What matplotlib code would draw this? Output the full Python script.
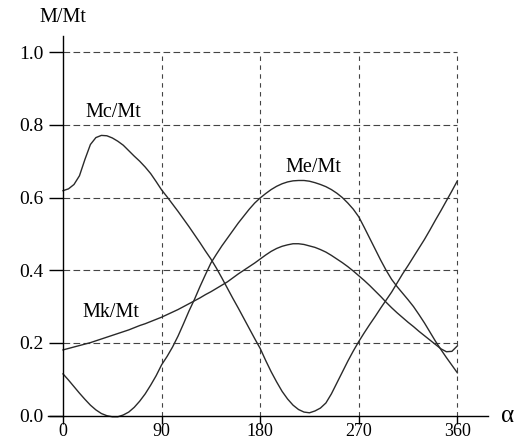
import matplotlib
matplotlib.use('Agg')
import matplotlib.pyplot as plt

plt.rcParams['font.family'] = ['Liberation Serif', 'DejaVu Serif']

# angle, degrees
alpha = list(range(0, 361, 5))

# Mc/Mt
mc = [0.619, 0.624, 0.636, 0.660, 0.705, 0.746, 0.765, 0.771, 0.770, 0.764,
      0.755, 0.744, 0.729, 0.714, 0.700, 0.684, 0.666, 0.644, 0.621, 0.602,
      0.582, 0.562, 0.541, 0.520, 0.498, 0.476, 0.453, 0.431, 0.406, 0.379,
      0.351, 0.323, 0.296, 0.268, 0.240, 0.212, 0.185, 0.152, 0.121, 0.093,
      0.067, 0.046, 0.029, 0.017, 0.010, 0.008, 0.013, 0.021, 0.035, 0.060,
      0.090, 0.120, 0.150, 0.178, 0.204, 0.228, 0.251, 0.273, 0.296, 0.318,
      0.340, 0.365, 0.390, 0.413, 0.437, 0.461, 0.485, 0.511, 0.538, 0.564,
      0.591, 0.618, 0.646]

# Me/Mt
me = [0.115, 0.098, 0.080, 0.062, 0.045, 0.029, 0.016, 0.006, 0.000, -0.003,
      -0.003, 0.002, 0.010, 0.023, 0.040, 0.060, 0.084, 0.110, 0.140, 0.163,
      0.189, 0.219, 0.253, 0.288, 0.320, 0.355, 0.388, 0.420, 0.444, 0.467,
      0.488, 0.509, 0.530, 0.549, 0.568, 0.585, 0.599, 0.611, 0.622, 0.631,
      0.638, 0.643, 0.646, 0.647, 0.647, 0.645, 0.641, 0.636, 0.630, 0.622,
      0.612, 0.600, 0.585, 0.568, 0.547, 0.518, 0.488, 0.458, 0.428, 0.400,
      0.375, 0.355, 0.337, 0.319, 0.300, 0.278, 0.255, 0.230, 0.205, 0.182,
      0.160, 0.139, 0.118]

# Mk/Mt
mk = [0.181, 0.185, 0.189, 0.193, 0.197, 0.201, 0.206, 0.211, 0.216, 0.221,
      0.226, 0.231, 0.236, 0.242, 0.248, 0.253, 0.259, 0.265, 0.271, 0.278,
      0.285, 0.292, 0.300, 0.308, 0.316, 0.324, 0.333, 0.341, 0.350, 0.359,
      0.368, 0.379, 0.390, 0.400, 0.410, 0.420, 0.431, 0.442, 0.452, 0.460,
      0.466, 0.470, 0.473, 0.473, 0.471, 0.467, 0.463, 0.457, 0.450, 0.441,
      0.431, 0.421, 0.410, 0.398, 0.385, 0.372, 0.358, 0.343, 0.328, 0.312,
      0.297, 0.283, 0.270, 0.257, 0.245, 0.232, 0.220, 0.208, 0.196, 0.184,
      0.176, 0.177, 0.192]

xticks = [0, 90, 180, 270, 360]
yticks = [0.0, 0.2, 0.4, 0.6, 0.8, 1.0]

fig = plt.figure(figsize=(5.23, 4.43), dpi=100)
ax = fig.add_axes([0.0912, 0.037, 0.8419, 0.8822])
ax.set_xlim(-14, 388)
ax.set_ylim(-0.03, 1.045)

# dashed grid inside the 0..360 x 0..1 box
gc = '#444444'
ax.hlines(yticks[1:], 0, 360, colors=gc, linewidth=0.8, linestyles=(0, (6, 3)))
ax.vlines(xticks[1:], 0, 1.0, colors=gc, linewidth=0.8, linestyles=(0, (4, 4)))

lc = '#2a2a2a'
ax.plot(alpha, mc, color=lc, lw=1.0)
ax.plot(alpha, me, color=lc, lw=1.0)
ax.plot(alpha, mk, color=lc, lw=1.0)

ax.spines['top'].set_visible(False)
ax.spines['right'].set_visible(False)
ax.spines['bottom'].set_position(('data', 0))
ax.spines['left'].set_position(('data', 0))
ax.spines['left'].set_bounds(0, 1.045)
for s in ('left', 'bottom'):
    ax.spines[s].set_linewidth(1.0)

ax.set_xticks(xticks)
ax.set_xticklabels([str(v) for v in xticks])
ax.set_yticks(yticks)
ax.set_yticklabels(['%.1f' % v for v in yticks])
ax.tick_params(axis='x', direction='out', length=5.5, width=1.0, pad=0, labelsize=13)
ax.tick_params(axis='y', direction='out', length=10, width=1.0, pad=4, labelsize=14)

ax.text(45.6, 0.835, 'Mc/Mt', ha='center', va='center', fontsize=14.5)
ax.text(228.8, 0.684, 'Me/Mt', ha='center', va='center', fontsize=14.5)
ax.text(43.7, 0.285, 'Mk/Mt', ha='center', va='center', fontsize=14.5)
ax.text(0, 1.094, 'M/Mt', ha='center', va='center', fontsize=14.5, clip_on=False)
ax.text(406, 0.0, 'α', ha='center', va='center', fontsize=18, clip_on=False)

fig.savefig('out.png', dpi=100)
